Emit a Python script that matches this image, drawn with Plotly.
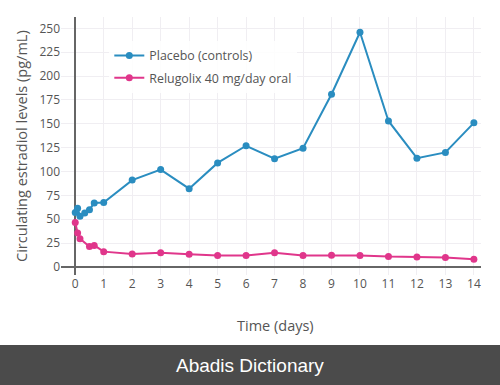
import plotly.graph_objects as go

# Data
placebo_days = [0, 0.083, 0.167, 0.333, 0.5, 0.667, 1, 2, 3, 4, 5, 6, 7, 8, 9, 10, 11, 12, 13, 14]
placebo_e2 = [57, 61.5, 53, 56.5, 60, 67, 67.5, 91, 102, 82, 109, 127, 113.5, 124.5, 181, 246, 153, 114, 120, 151]

relugolix_days = [0, 0.083, 0.167, 0.5, 0.667, 1, 2, 3, 4, 5, 6, 7, 8, 9, 10, 11, 12, 13, 14]
relugolix_e2 = [46.5, 35.5, 29.5, 21.3, 22.5, 16, 13.4, 14.8, 13.3, 11.9, 12, 14.7, 12, 12.2, 12, 10.8, 10.4, 9.8, 8]

x_ticks = list(range(0, 15))
y_ticks = list(range(0, 251, 25))

BLUE = "#2a8dc0"
PINK = "#e0368b"
FONT = "Open Sans"

fig = go.Figure()
fig.add_trace(go.Scatter(
    x=placebo_days, y=placebo_e2, mode="lines+markers", name="Placebo (controls)", legendgroup="a",
    line=dict(color=BLUE, width=2), marker=dict(color=BLUE, size=7)))
fig.add_trace(go.Scatter(
    x=relugolix_days, y=relugolix_e2, mode="lines+markers", name="Relugolix 40 mg/day oral", legendgroup="b",
    line=dict(color=PINK, width=2), marker=dict(color=PINK, size=7)))

fig.update_layout(
    width=500, height=385,
    margin=dict(l=61, r=19, t=17, b=110, autoexpand=False),
    paper_bgcolor="white", plot_bgcolor="white",
    font=dict(family=FONT, color="#555", size=12),
    showlegend=True,
    legend=dict(x=0.115, y=0.907, xanchor="left", yanchor="top",
                bgcolor="rgba(255,255,255,0.85)", font=dict(size=12.4, color="#555"),
                traceorder="grouped", tracegroupgap=3),
    xaxis=dict(range=[-0.5, 14.25], tickvals=x_ticks, showgrid=True, gridcolor="#f0eef2",
               zeroline=True, zerolinecolor="#666", zerolinewidth=1.5, showline=False,
               ticks="", tickfont=dict(size=12, color="#555"), automargin=False),
    yaxis=dict(range=[-8.5, 262], tickvals=y_ticks, showgrid=True, gridcolor="#f0eef2",
               zeroline=True, zerolinecolor="#666", zerolinewidth=1.5, showline=False,
               ticks="", tickfont=dict(size=12, color="#555"), automargin=False),
)

# Axis titles placed as annotations
fig.add_annotation(text="Time (days)", xref="paper", yref="paper",
                   x=(275 - 61) / 420, y=(275 - 325) / 258, showarrow=False,
                   font=dict(size=14.5, color="#555"), xanchor="center", yanchor="middle")
fig.add_annotation(text="Circulating estradiol levels (pg/mL)", xref="paper", yref="paper",
                   x=(21 - 61) / 420, y=(275 - 146) / 258, showarrow=False, textangle=-90,
                   font=dict(size=14.5, color="#555"), xanchor="center", yanchor="middle")

# Bottom watermark band
fig.add_shape(type="rect", xref="paper", yref="paper", x0=-0.2, x1=1.1, y0=-0.4264, y1=-0.2713,
              fillcolor="#4b4b4b", line=dict(width=0), layer="above")
fig.add_annotation(text="Abadis Dictionary", xref="paper", yref="paper", x=(250 - 61) / 420, y=-0.349,
                   showarrow=False, font=dict(family="Liberation Sans, Arial", size=19, color="white"),
                   xanchor="center", yanchor="middle")

fig.write_html("out.html", config={"displayModeBar": False},
               post_script="document.body.style.margin='0';document.body.style.padding='0';")
